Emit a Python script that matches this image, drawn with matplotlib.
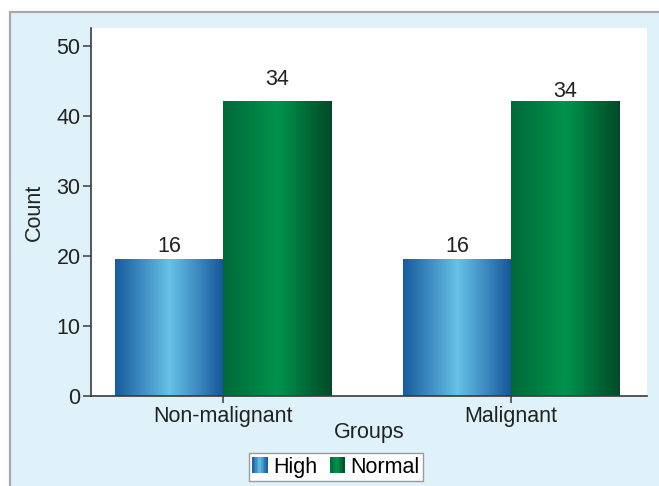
import numpy as np
import matplotlib
matplotlib.use("Agg")
import matplotlib.pyplot as plt
from matplotlib.colors import LinearSegmentedColormap
from matplotlib.patches import Rectangle
from matplotlib.legend_handler import HandlerBase


# =========================
# DATA
# =========================

groups = ["Non-malignant", "Malignant"]
series = ["High", "Normal"]
high_heights = [19.6, 19.6]
normal_heights = [42.2, 42.2]
high_labels = ["16", "16"]
normal_labels = ["34", "34"]
y_ticks = [0, 10, 20, 30, 40, 50]

# label gap above each bar (pixels), as drawn in the original
high_gap = [7, 7]
normal_gap = [16, 4]


# =========================
# STYLE
# =========================

FS = 15.5
plt.rcParams["font.family"] = ["Liberation Sans", "DejaVu Sans"]
plt.rcParams["font.size"] = FS

blue_cmap = LinearSegmentedColormap.from_list(
    "blue_bar", ["#175c9c", "#3f8cc2", "#66c2e6", "#3f8cc2", "#15559a"]
)
green_cmap = LinearSegmentedColormap.from_list(
    "green_bar", ["#00693a", "#007e43", "#00944d", "#006e39", "#004b27"]
)
panel_color = "#dff1f9"
axis_color = "#3a3a3a"
text_color = "#222222"


class GradientHandler(HandlerBase):
    def __init__(self, cmap, steps=10):
        super().__init__()
        self.cmap = cmap
        self.steps = steps

    def create_artists(self, legend, orig_handle, xdescent, ydescent,
                       width, height, fontsize, trans):
        parts = []
        w = width / self.steps
        for i in range(self.steps):
            parts.append(Rectangle(
                (-xdescent + i * w, -ydescent), w * 1.05, height,
                facecolor=self.cmap((i + 0.5) / self.steps),
                edgecolor="none", transform=trans
            ))
        return parts


# =========================
# FIGURE
# =========================

W, H = 659, 486
fig = plt.figure(figsize=(W / 100, H / 100), dpi=100, facecolor="white")

# light blue panel behind the chart
fig.patches.append(Rectangle(
    (10 / W, -0.05), 1.2, (H - 12) / H + 0.05,
    transform=fig.transFigure, facecolor=panel_color,
    edgecolor="#a9a9a9", linewidth=1.6, zorder=-10
))

ax = fig.add_axes([91 / W, (H - 396) / H, (647 - 91) / W, (396 - 28) / H])
ax.set_facecolor("white")

x = np.arange(len(groups))
bar_w = 0.375

bars_high = ax.bar(x - bar_w / 2, high_heights, bar_w, color="none",
                   edgecolor="none", label=series[0])
bars_normal = ax.bar(x + bar_w / 2, normal_heights, bar_w, color="none",
                     edgecolor="none", label=series[1])

grad = np.linspace(0, 1, 256).reshape(1, -1)
for bars, cmap in [(bars_high, blue_cmap), (bars_normal, green_cmap)]:
    for b in bars:
        x0 = b.get_x()
        img = ax.imshow(grad, cmap=cmap, aspect="auto",
                        extent=[x0, x0 + b.get_width(), 0, b.get_height()],
                        interpolation="bilinear", zorder=2)
        img.set_clip_path(b)

for bars, labels, gaps in [(bars_high, high_labels, high_gap),
                           (bars_normal, normal_labels, normal_gap)]:
    for b, lab, g in zip(bars, labels, gaps):
        ax.annotate(lab, (b.get_x() + b.get_width() / 2, b.get_height()),
                    xytext=(0, g), textcoords="offset pixels",
                    ha="center", va="baseline", fontsize=FS, color=text_color)

ax.set_xlim(-0.4583, 1.4722)
ax.set_ylim(0, 52.6)
ax.set_xticks(x)
ax.set_xticklabels(groups)
ax.set_yticks(y_ticks)

for side in ["top", "right"]:
    ax.spines[side].set_visible(False)
for side in ["left", "bottom"]:
    ax.spines[side].set_color(axis_color)
    ax.spines[side].set_linewidth(1.2)

ax.tick_params(axis="y", length=6, width=1.1, pad=1.5, color=axis_color,
               labelsize=FS, labelcolor=text_color)
ax.tick_params(axis="x", length=5, width=1.1, pad=2.5, color=axis_color,
               labelsize=FS, labelcolor=text_color)

ax.set_xlabel("Groups", fontsize=FS, color=text_color, va="top")
ax.xaxis.set_label_coords(0.5, -0.07)
ax.set_ylabel("Count", fontsize=FS, color=text_color)
ax.yaxis.set_label_coords(-0.083, 0.5)

fig.legend(
    [bars_high, bars_normal], series,
    handler_map={bars_high: GradientHandler(blue_cmap),
                 bars_normal: GradientHandler(green_cmap)},
    loc="center", bbox_to_anchor=(336 / W, (H - 467) / H),
    ncol=2, fontsize=FS, frameon=True, fancybox=False,
    edgecolor="#9a9a9a", facecolor="white", framealpha=1,
    handlelength=0.7, handleheight=0.8, handletextpad=0.25,
    columnspacing=0.6, borderpad=0.15, borderaxespad=0
)

fig.savefig("out.png", dpi=100, facecolor="white")
